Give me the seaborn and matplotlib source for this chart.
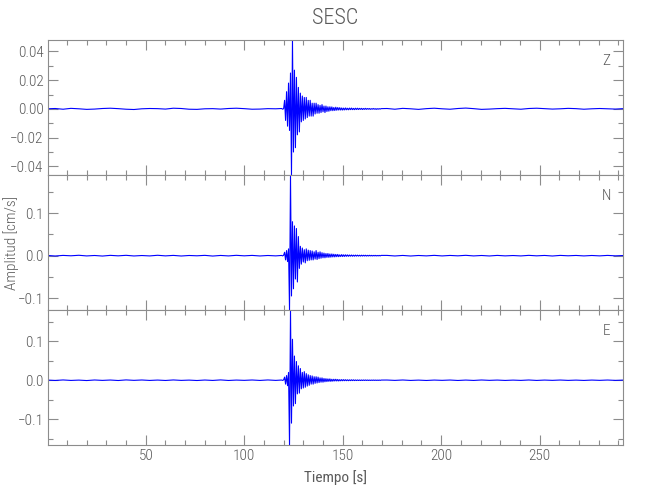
import numpy as np
import pandas as pd
import matplotlib
matplotlib.use("Agg")
import matplotlib.pyplot as plt
from matplotlib import font_manager
from matplotlib.ticker import MultipleLocator, FuncFormatter
import seaborn as sns

# Station and components
station = "SESC"
components = ["Z", "N", "E"]

# Sample times [s]: quiet part before, the event window, quiet part after
t_pre = np.arange(0, 119, 4.0)        # 30 samples
t_event = np.arange(119, 170, 0.5)    # 102 samples
t_post = np.arange(172.5, 293, 4.0)   # 31 samples

# Amplitudes, in units of 1e-3 cm/s
z_pre = [0.1, 0.3, -0.2, 0.4, 0.1, -0.3, -0.1, 0.3, 0.5, 0.2,
         -0.2, -0.4, 0.1, 0.3, 0.2, -0.1, 0.5, 0.3, -0.2, -0.3,
         0.1, 0.2, -0.1, 0.3, 0.5, 0.2, -0.2, -0.1, 0.2, 0.1]
z_event = [0.3, -0.2, 0.2, 6, -8, 12, -12, 18, -15, 25,
           -46, 48, -30, 27, -27, 22, -18, 15, -16, 11,
           -9, 9, -8, 8, -7, 8, -6, 6, -5, 6,
           -5, 4, -5, 4, -3.5, 4, -3, 3, -3, 2.5,
           -2.5, 3, -2, 2, -2.5, 2, -1.8, 1.5, -1.6, 1.5,
           -1.2, 1.4, -1.2, 1.0, -1.1, 1.2, -0.9, 1.0, -0.8, 0.9,
           -0.8, 0.7, -0.8, 0.6, -0.7, 0.7, -0.6, 0.5, -0.6, 0.6,
           -0.5, 0.6, -0.5, 0.4, -0.5, 0.5, -0.4, 0.5, -0.4, 0.4,
           -0.3, 0.4, -0.4, 0.3, -0.3, 0.4, -0.3, 0.3, -0.2, 0.3,
           -0.3, 0.2, -0.2, 0.3, -0.2, 0.2, -0.3, 0.2, -0.2, 0.2,
           -0.1, 0.2]
z_post = [0.3, -0.2, 0.4, 0.1, -0.3, 0.2, 0.5, 0.1, -0.2, 0.3,
          0.6, 0.2, -0.3, -0.1, 0.2, 0.4, 0.1, -0.2, 0.3, 0.5,
          0.2, -0.1, 0.1, 0.4, 0.2, -0.2, 0.1, 0.3, 0.1, -0.1, 0.2]

n_pre = [0.5, -0.8, 0.6, -0.3, 0.9, -0.6, 0.4, -0.9, 0.7, -0.4,
         0.8, -0.7, 0.3, -0.6, 0.9, -0.5, 0.6, -0.8, 0.4, -0.3,
         0.7, -0.9, 0.5, -0.6, 0.8, -0.4, 0.6, -0.7, 0.4, -0.5]
n_event = [0.5, -0.6, 1.0, 8, -10, 12, -14, 16, -128, 190,
           -95, 80, -78, 70, -55, 64, -62, 45, -30, 22,
           -20, 18, -15, 14, -17, 16, -12, 13, -11, 12,
           -10, 11, -10, 9, -8, 12, -9, 8, -7, 9,
           -6, 7, -5, 6, -5, 5, -4, 5, -4, 4,
           -3.5, 4, -3, 3.5, -3, 3, -2.5, 3, -2.5, 2,
           -2, 2.5, -2, 2, -1.8, 2, -1.5, 1.8, -1.5, 1.5,
           -1.2, 1.5, -1.3, 1.2, -1.2, 1.3, -1, 1.2, -1, 1,
           -1, 1.1, -0.9, 1, -0.8, 1, -0.9, 0.8, -0.8, 0.9,
           -0.7, 0.8, -0.8, 0.7, -0.6, 0.8, -0.7, 0.6, -0.6, 0.7,
           -0.6, 0.6]
n_post = [0.6, -0.7, 0.5, -0.8, 0.4, -0.5, 0.7, -0.6, 0.5, -0.4,
          0.8, -0.6, 0.4, -0.7, 0.6, -0.5, 0.3, -0.6, 0.7, -0.4,
          0.5, -0.8, 0.6, -0.3, 0.5, -0.6, 0.4, -0.5, 0.6, -0.4, 0.3]

e_pre = [0.4, -0.6, 0.7, -0.5, 0.3, -0.8, 0.6, -0.4, 0.5, -0.7,
         0.8, -0.3, 0.6, -0.5, 0.4, -0.6, 0.7, -0.4, 0.3, -0.7,
         0.5, -0.5, 0.8, -0.6, 0.4, -0.3, 0.6, -0.5, 0.7, -0.4]
e_event = [0.5, -0.5, 0.8, 8, -10, 12, -14, 20, -166, 180,
           -110, 105, -66, 62, -60, 48, -35, 37, -33, 30,
           -22, 20, -20, 22, -18, 17, -15, 14, -13, 12,
           -10, 11, -10, 9, -8, 9, -7, 8, -6, 6,
           -5, 6, -5, 4.5, -4, 4, -3.5, 3.5, -3, 3.5,
           -3, 2.5, -2.5, 2.5, -2, 2.5, -2, 2, -2, 1.5,
           -1.5, 1.6, -1.4, 1.5, -1.2, 1.3, -1.2, 1.1, -1.2, 1.0,
           -1.0, 1.1, -0.9, 1.0, -0.9, 0.8, -0.9, 0.8, -0.8, 0.7,
           -0.8, 0.7, -0.7, 0.7, -0.6, 0.7, -0.6, 0.6, -0.6, 0.5,
           -0.6, 0.5, -0.5, 0.6, -0.5, 0.5, -0.5, 0.4, -0.5, 0.5,
           -0.4, 0.4]
e_post = [0.5, -0.4, 0.6, -0.5, 0.3, -0.6, 0.4, -0.3, 0.5, -0.6,
          0.4, -0.5, 0.6, -0.3, 0.4, -0.5, 0.3, -0.4, 0.6, -0.5,
          0.4, -0.3, 0.5, -0.4, 0.3, -0.5, 0.4, -0.3, 0.5, -0.4, 0.3]

scale = 1e-3  # to cm/s

frames = []
for comp, parts in zip(components, [(z_pre, z_event, z_post),
                                    (n_pre, n_event, n_post),
                                    (e_pre, e_event, e_post)]):
    t = np.concatenate([t_pre, t_event, t_post])
    a = np.concatenate([np.array(p, dtype=float) for p in parts]) * scale
    frames.append(pd.DataFrame({"t": t, "amp": a, "comp": comp}))
df = pd.concat(frames, ignore_index=True)

sns.set_style("ticks")
# thin, narrow font if one is there (closest to the IDL vector font)
installed = {f.name for f in font_manager.fontManager.ttflist}
narrow = [n for n in ["Liberation Sans Narrow", "Roboto Condensed", "Open Sans Condensed"]
          if n in installed]
plt.rcParams["font.family"] = narrow + ["DejaVu Sans"]
plt.rcParams["font.stretch"] = "condensed"
plt.rcParams["font.weight"] = "light"
grey = "#5a5a5a"
spine = "#8c8c8c"

fig = plt.figure(figsize=(6.5, 5), dpi=100)
left, right, top, bottom = 47.7 / 650, 623.3 / 650, 1 - 40 / 500, 1 - 445 / 500
axes = fig.subplots(3, 1, sharex=True,
                    gridspec_kw=dict(hspace=0, left=left, right=right, top=top, bottom=bottom))

ymajor = {"Z": 0.02, "N": 0.1, "E": 0.1}
yminor = {"Z": 0.01, "N": 0.05, "E": 0.05}
yfmt = {"Z": "{:.2f}", "N": "{:.1f}", "E": "{:.1f}"}
tick_size = 9 if not narrow else 11

for ax, comp in zip(axes, components):
    sub = df[df["comp"] == comp]
    sns.lineplot(data=sub, x="t", y="amp", ax=ax, color="#0000ff", lw=0.8,
                 sort=False, estimator=None, legend=False)
    ax.set_xlim(0.2, 292.5)
    ax.set_ylim(sub["amp"].min(), sub["amp"].max())
    ax.xaxis.set_major_locator(MultipleLocator(50))
    ax.xaxis.set_minor_locator(MultipleLocator(10))
    ax.yaxis.set_major_locator(MultipleLocator(ymajor[comp]))
    ax.yaxis.set_minor_locator(MultipleLocator(yminor[comp]))
    f = yfmt[comp]
    ax.yaxis.set_major_formatter(FuncFormatter(
        lambda v, p, f=f: f.format(0.0 if abs(v) < 1e-9 else v).replace("-", "\u2212")))
    ax.tick_params(which="both", direction="in", top=True, right=True,
                   color=spine, labelcolor=grey, labelsize=tick_size, pad=3)
    ax.tick_params(which="major", length=7, width=0.8)
    ax.tick_params(which="minor", length=3.8, width=0.8)
    for s in ax.spines.values():
        s.set_color(spine)
        s.set_linewidth(0.8)
    ax.set_xlabel("")
    ax.set_ylabel("")
    ax.text(0.97, 0.845, comp, transform=ax.transAxes, ha="center", va="center",
            color=grey, fontsize=11)

axes[-1].set_xlabel("Tiempo [s]", color=grey, fontsize=11, labelpad=5)
fig.text(11 / 650, 1 - 243 / 500, "Amplitud [cm/s]", rotation=90,
         ha="center", va="center", color=grey, fontsize=11)
fig.text((47.7 + 623.3) / 2 / 650, 1 - 18 / 500, station, ha="center", va="center",
         color=grey, fontsize=16)

fig.savefig("out.png", dpi=100)
